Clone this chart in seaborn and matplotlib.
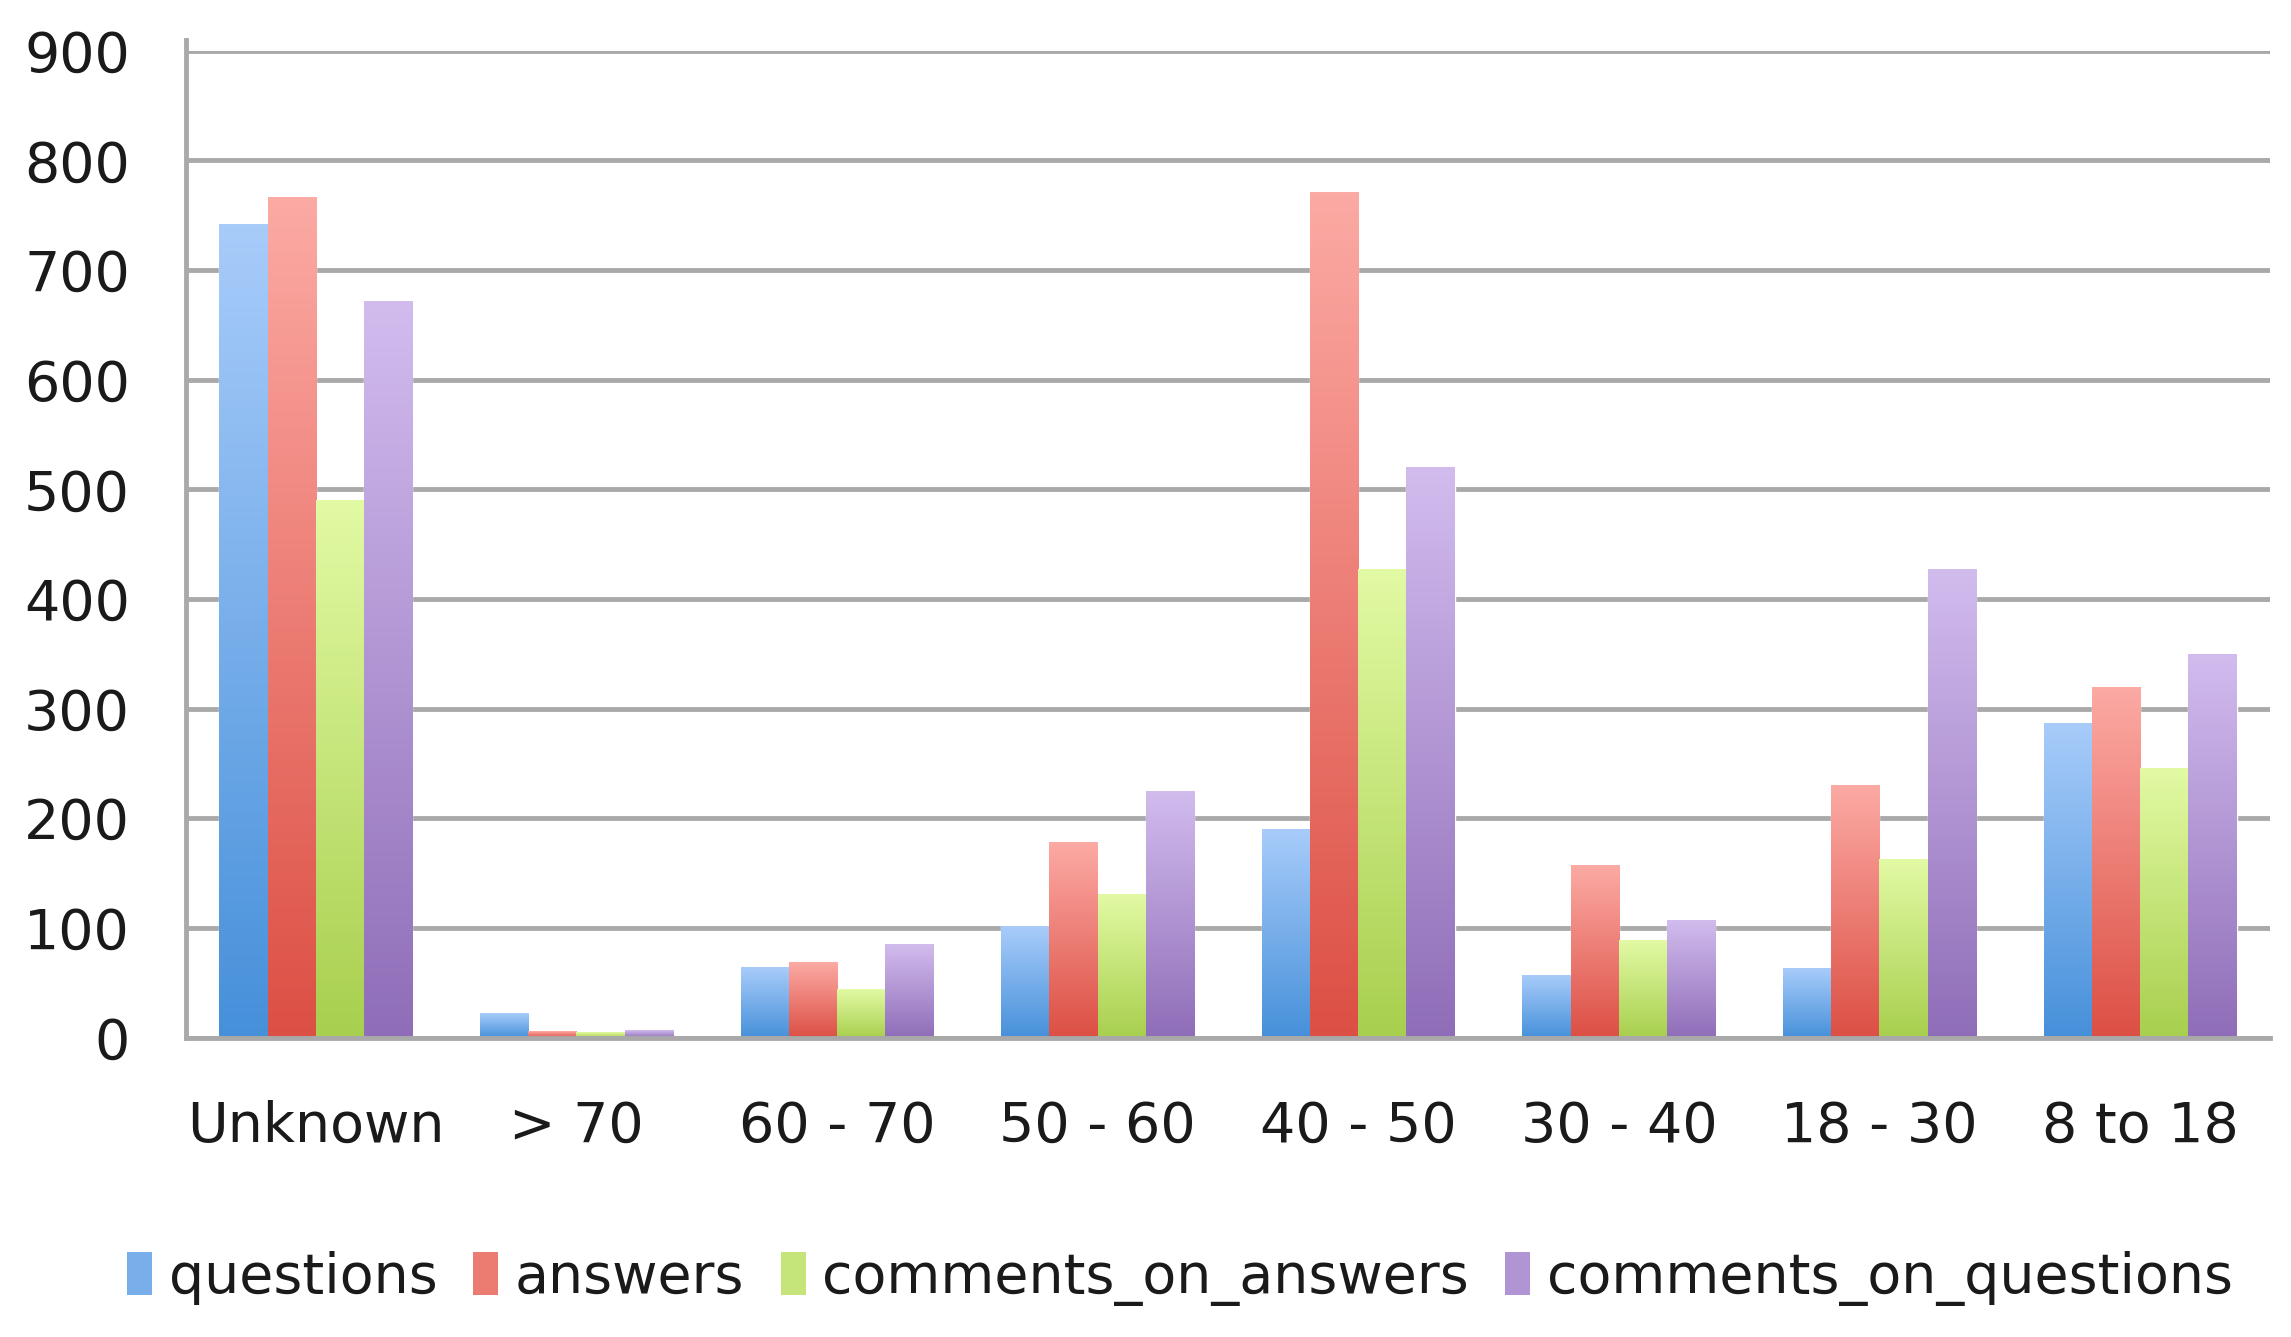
import matplotlib
matplotlib.use("Agg")
import matplotlib.pyplot as plt
from matplotlib.colors import LinearSegmentedColormap, to_rgb
from matplotlib.patches import Patch
import numpy as np
import pandas as pd
import seaborn as sns

# values
age_groups = ["Unknown", "> 70", "60 - 70", "50 - 60", "40 - 50", "30 - 40", "18 - 30", "8 to 18"]
questions = [742, 22, 64, 102, 190, 57, 63, 287]
answers = [767, 6, 69, 178, 771, 157, 230, 320]
comments_on_answers = [490, 5, 44, 131, 427, 89, 163, 246]
comments_on_questions = [672, 7, 85, 225, 520, 107, 427, 350]

series_names = ["questions", "answers", "comments_on_answers", "comments_on_questions"]
top_colors = ["#a8ccfa", "#fcaaa4", "#e2faa4", "#d2bcee"]
bottom_colors = ["#4690da", "#dc4f44", "#a8cf4e", "#8f6db8"]
mid_colors = ["#78aeea", "#ec7b72", "#c5e479", "#b094d3"]

df = pd.DataFrame({
    "age": age_groups,
    "questions": questions,
    "answers": answers,
    "comments_on_answers": comments_on_answers,
    "comments_on_questions": comments_on_questions,
})
long_df = df.melt(id_vars="age", var_name="series", value_name="count")

sns.set_style("white")
plt.rcParams["font.family"] = ["DejaVu Sans"]

fig = plt.figure(figsize=(22.91, 13.37), dpi=100)
ax = fig.add_axes([0.081, 0.224, 0.910, 0.738])

sns.barplot(data=long_df, x="age", y="count", hue="series", order=age_groups,
            hue_order=series_names, palette=mid_colors, saturation=1,
            width=0.74, legend=False, ax=ax)

# vertical gradient on each bar, like the spreadsheet style
mid_rgb = [np.array(to_rgb(c)) for c in mid_colors]
for p in ax.patches:
    fc = np.array(p.get_facecolor()[:3])
    i = int(np.argmin([np.sum((fc - m) ** 2) for m in mid_rgb]))
    cmap = LinearSegmentedColormap.from_list("g", [bottom_colors[i], top_colors[i]])
    x0, w, h = p.get_x(), p.get_width(), p.get_height()
    grad = np.linspace(0, 1, 256).reshape(-1, 1)
    ax.imshow(grad, extent=[x0, x0 + w, 0, h], origin="lower", aspect="auto",
              cmap=cmap, zorder=p.get_zorder() + 0.1)

ax.set_xlim(-0.5, len(age_groups) - 0.5)
ax.set_ylim(0, 900)
ax.set_yticks(np.arange(0, 901, 100))
ax.set_xticks(np.arange(len(age_groups)))
ax.set_xticklabels(age_groups)
ax.set_xticks(np.arange(-0.5, len(age_groups), 1), minor=True)
ax.set_xlabel("")
ax.set_ylabel("")

grey = "#a9a9a9"
ax.yaxis.grid(True, color=grey, linewidth=3.5)
ax.set_axisbelow(True)
for side in ["top", "right"]:
    ax.spines[side].set_visible(False)
for side in ["left", "bottom"]:
    ax.spines[side].set_color(grey)
    ax.spines[side].set_linewidth(3.5)
ax.spines["left"].set_bounds(0, 910)

ax.tick_params(axis="y", length=16, width=3.5, color=grey, pad=24, labelsize=40, labelcolor="#1a1a1a")
ax.tick_params(axis="x", which="major", length=0, pad=45, labelsize=40, labelcolor="#1a1a1a")
ax.tick_params(axis="x", which="minor", length=15, width=3.5, color=grey)

handles = [Patch(facecolor=c, edgecolor="none") for c in mid_colors]
fig.legend(handles, series_names, loc="center", bbox_to_anchor=(0.515, 0.044), ncol=4,
           frameon=False, fontsize=40, handlelength=0.45, handleheight=0.8,
           handletextpad=0.3, columnspacing=0.65, labelcolor="#1a1a1a")

fig.savefig("out.png", dpi=100)
